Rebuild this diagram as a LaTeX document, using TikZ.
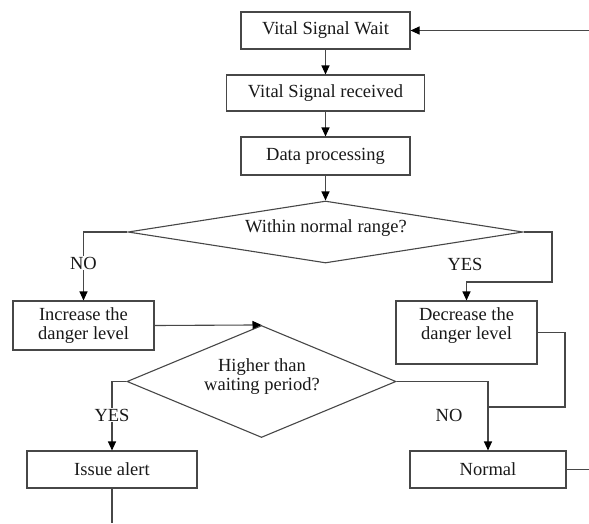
\documentclass[tikz,border=0pt]{standalone}
\usepackage{fontspec}
\setmainfont{Liberation Serif}
\usetikzlibrary{arrows.meta,shapes.geometric}
\begin{document}
\begin{tikzpicture}[x=1pt,y=-1pt,
  line/.style={draw=black!72, line width=1.1pt},
  arr/.style={line, -{Triangle[length=9pt,width=8pt,color=black]}},
  txt/.style={font=\fontsize{18.5}{19}\selectfont, text=black!90, align=center},
  box/.style={line, rectangle, inner sep=0pt, txt},
  dia/.style={line, diamond, inner sep=0pt},
  lbl/.style={txt, inner sep=1pt},
]
\useasboundingbox[fill=white] (0,0) rectangle (589,523);

% nodes
\node[box, minimum width=169pt, minimum height=37pt] (w1) at (325.5,30.5) {Vital Signal Wait};
\node[box, minimum width=198pt, minimum height=36pt] (w2) at (325.5,93) {Vital Signal received};
\node[box, minimum width=169pt, minimum height=38pt] (w3) at (325.5,156) {Data processing};
\node[dia, minimum width=395pt, minimum height=62pt] (d1) at (325.5,232) {};
\node[lbl] (d1t) at (326,228) {Within normal range?};
\node[box, minimum width=141pt, minimum height=49pt] (inc) at (83.5,325.5) {Increase the\\danger level};
\node[box, minimum width=141pt, minimum height=63pt] (dec) at (466.5,332.5) {};
\node[lbl] (dect) at (466.5,326) {Decrease the\\danger level};
\node[dia, minimum width=269pt, minimum height=112pt] (d2) at (261.5,381.5) {};
\node[lbl] (d2t) at (262,377) {Higher than\\waiting period?};
\node[box, minimum width=170pt, minimum height=37pt] (alert) at (112,469.5) {Issue alert};
\node[box, minimum width=156pt, minimum height=37pt] (norm) at (488,469.5) {Normal};

% free ends and bends
\coordinate (in1) at (589,30.5);
\coordinate (out1) at (112,523);
\coordinate (out2) at (589,469.5);
\coordinate (c1) at (552,282);
\coordinate (c2) at (565,407);
\coordinate (c3) at (488,407);

% connectors
\draw[arr] (in1) -- (w1.east);
\draw[arr] (w1.south) -- (w2.north);
\draw[arr] (w2.south) -- (w3.north);
\draw[arr] (w3.south) -- (d1.north);
\draw[arr] (d1.west) -| (inc.north);
\draw[arr] (d1.east) -| (c1) -| (dec.north);
\draw[arr] (inc.east) -- (d2.north);
\draw[arr] (d2.west) -| (alert.north);
\draw[arr] (d2.east) -| (norm.north);
\draw[line] (dec.east) -| (c2) -- (c3);
\draw[line] (norm.east) -- (out2);
\draw[line] (alert.south) -- (out1);

% labels
\node[lbl, fill=white] (no1) at (83.5,263) {NO};
\node[lbl] (yes1) at (465,264) {YES};
\node[lbl, fill=white] (yes2) at (112,415) {YES};
\node[lbl] (no2) at (449,415) {NO};
\end{tikzpicture}
\end{document}
